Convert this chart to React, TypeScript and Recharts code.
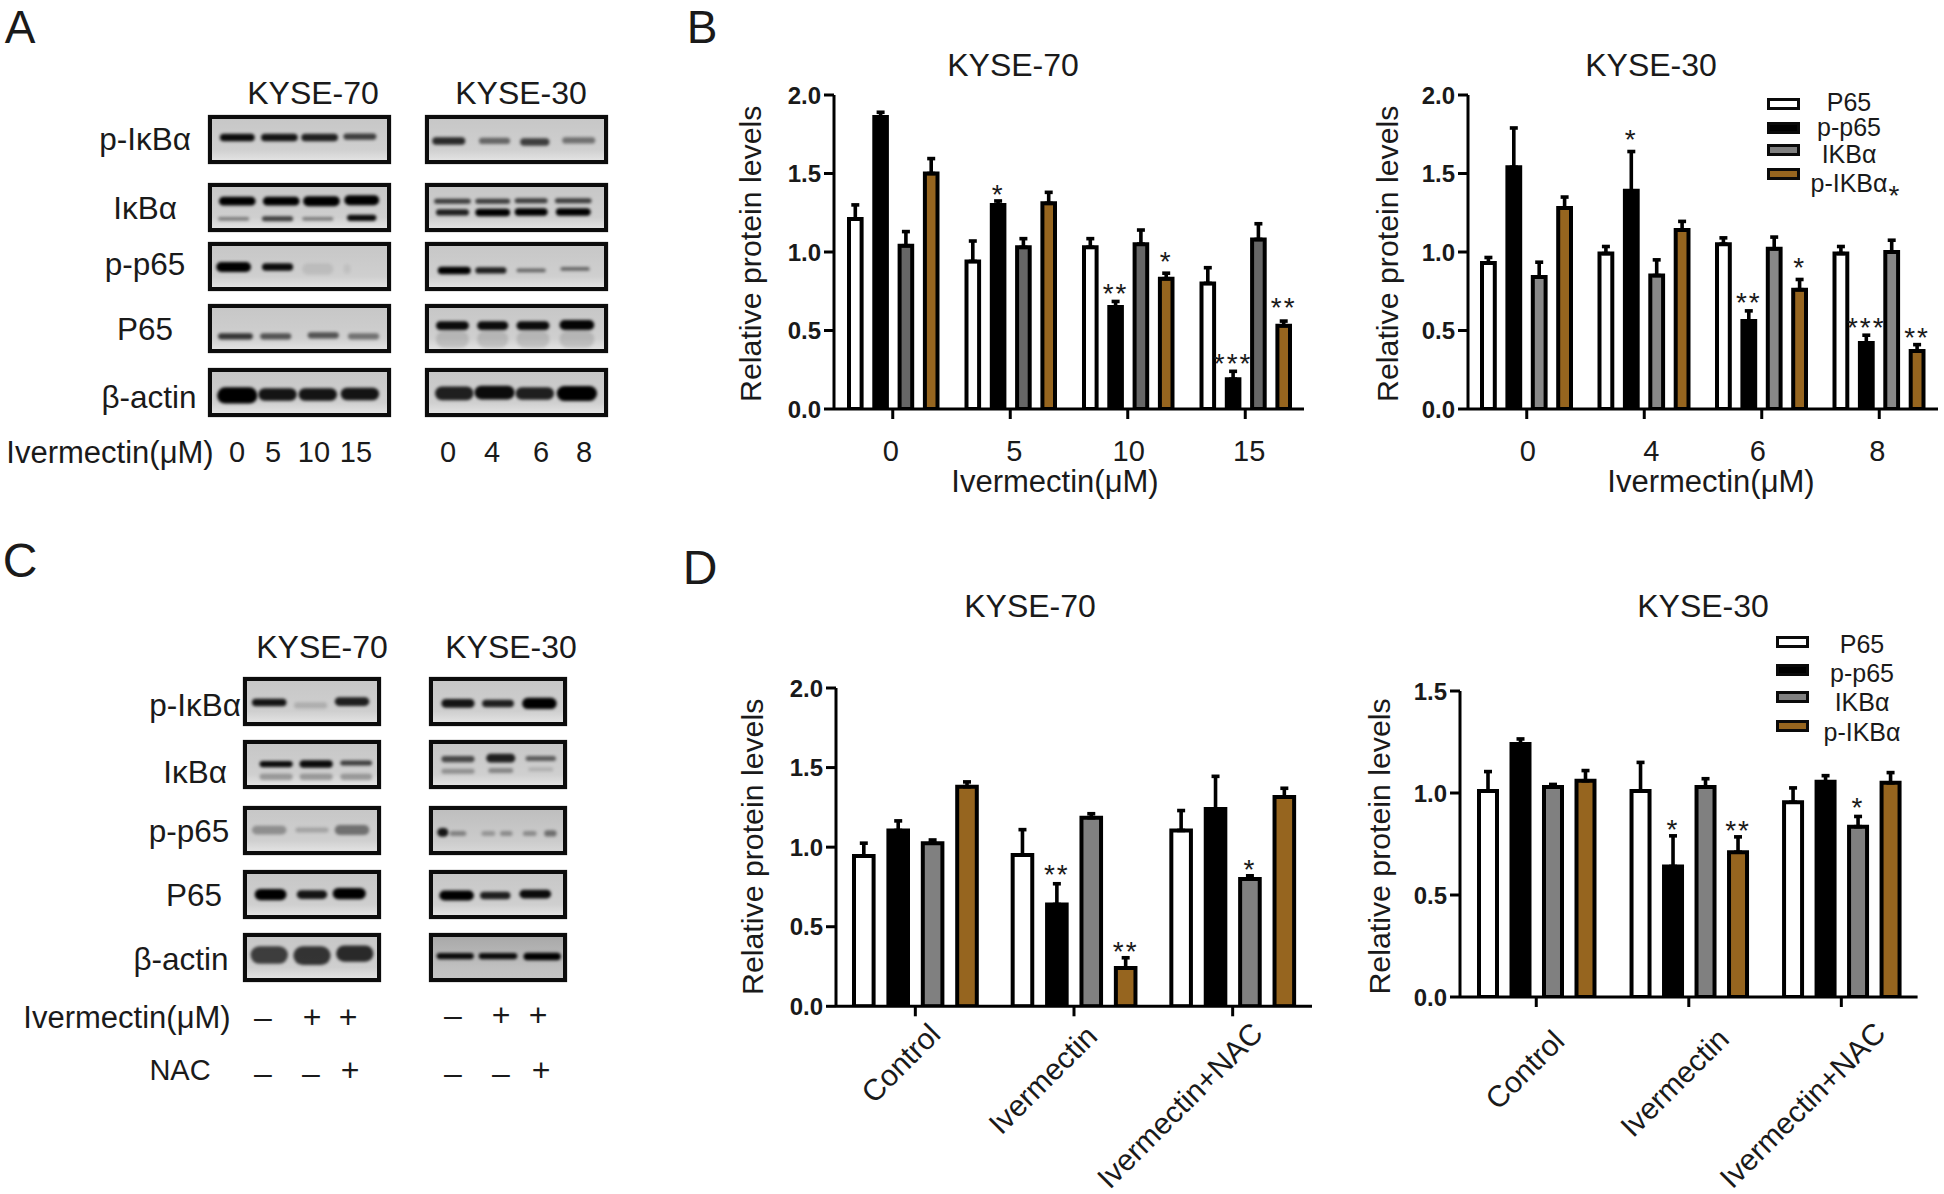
import React from 'react';
import { BarChart, Bar, XAxis, YAxis, ErrorBar, LabelList, ScatterChart, Scatter } from 'recharts';

const FONT = '"Liberation Sans", Arial, sans-serif';
const INK = '#1a1a1a';

// ---------- bar chart data ----------
const seriesKeys = ['P65', 'p-p65', 'IKBα', 'p-IKBα'];
const b70Cats = ['0', '5', '10', '15'];
const b70P65 = [1.21, 0.94, 1.03, 0.8];
const b70P65Err = [0.09, 0.13, 0.055, 0.1];
const b70Pp65 = [1.86, 1.3, 0.65, 0.19];
const b70Pp65Err = [0.03, 0.025, 0.035, 0.05];
const b70Ikb = [1.04, 1.03, 1.05, 1.08];
const b70IkbErr = [0.09, 0.055, 0.09, 0.1];
const b70Pikb = [1.5, 1.31, 0.83, 0.53];
const b70PikbErr = [0.095, 0.07, 0.035, 0.03];
const b70Pp65Stars = ['', '*', '**', '***'];
const b70PikbStars = ['', '', '*', '**'];

const b30Cats = ['0', '4', '6', '8'];
const b30P65 = [0.93, 0.99, 1.05, 0.99];
const b30P65Err = [0.035, 0.045, 0.04, 0.045];
const b30Pp65 = [1.54, 1.39, 0.56, 0.42];
const b30Pp65Err = [0.25, 0.25, 0.065, 0.05];
const b30Ikb = [0.84, 0.85, 1.02, 1.0];
const b30IkbErr = [0.095, 0.1, 0.075, 0.075];
const b30Pikb = [1.28, 1.14, 0.76, 0.37];
const b30PikbErr = [0.07, 0.055, 0.065, 0.04];
const b30Pp65Stars = ['', '*', '**', '***'];
const b30PikbStars = ['', '', '*', '**'];

const dCats = ['Control', 'Ivermectin', 'Ivermectin+NAC'];
const d70P65 = [0.945, 0.95, 1.105];
const d70P65Err = [0.08, 0.16, 0.125];
const d70Pp65 = [1.105, 0.64, 1.24];
const d70Pp65Err = [0.06, 0.13, 0.205];
const d70Ikb = [1.025, 1.185, 0.8];
const d70IkbErr = [0.02, 0.025, 0.02];
const d70Pikb = [1.38, 0.24, 1.315];
const d70PikbErr = [0.03, 0.065, 0.055];
const d70Pp65Stars = ['', '**', ''];
const d70IkbStars = ['', '', '*'];
const d70PikbStars = ['', '**', ''];

const d30P65 = [1.01, 1.01, 0.955];
const d30P65Err = [0.095, 0.14, 0.07];
const d30Pp65 = [1.24, 0.64, 1.055];
const d30Pp65Err = [0.025, 0.15, 0.03];
const d30Ikb = [1.03, 1.03, 0.835];
const d30IkbErr = [0.012, 0.04, 0.05];
const d30Pikb = [1.06, 0.71, 1.05];
const d30PikbErr = [0.05, 0.075, 0.05];
const d30Pp65Stars = ['', '*', ''];
const d30IkbStars = ['', '', '*'];
const d30PikbStars = ['', '**', ''];

const ticks2 = [0, 0.5, 1, 1.5, 2];
const ticks15 = [0, 0.5, 1, 1.5];

// ---------- blot data: [lane %, height %, width %, thickness, density] ----------
const a70pI = [[16, 46, 19, 6, 0.95], [39, 46, 20, 6, 0.9], [61, 46, 20, 6, 0.85], [83, 44, 18, 5, 0.7]];
const a70I = [[16, 37, 20, 7, 1], [40, 37, 20, 7, 1], [62, 37, 20, 8, 1], [84, 35, 19, 8, 1], [14, 73, 17, 3, 0.4], [38, 73, 17, 4, 0.7], [60, 73, 17, 3, 0.4], [84, 71, 16, 5, 0.95]];
const a70pp = [[14, 51, 19, 8, 1], [38, 51, 17, 6, 0.95], [60, 55, 17, 9, 0.08], [76, 55, 4, 8, 0.06]];
const a70P = [[15, 66, 19, 5, 0.75], [37, 66, 17, 5, 0.6], [63, 64, 17, 5, 0.6], [85, 66, 17, 5, 0.45]];
const a70A = [[16, 56, 22, 13, 1], [38, 54, 21, 10, 0.9], [60, 54, 21, 10, 0.9], [83, 53, 21, 10, 0.9]];
const a30pI = [[13, 53, 18, 6, 0.8], [38, 53, 17, 5, 0.5], [60, 55, 16, 6, 0.7], [84, 52, 18, 5, 0.45]];
const a30I = [[15, 37, 20, 4, 0.7], [37, 37, 19, 4, 0.7], [58, 36, 18, 4, 0.7], [81, 36, 20, 4, 0.7], [15, 60, 18, 5, 0.85], [37, 60, 19, 6, 1], [58, 59, 18, 6, 1], [81, 59, 19, 6, 1]];
const a30pp = [[16, 58, 18, 6, 1], [36, 58, 17, 5, 0.85], [58, 58, 16, 3, 0.5], [82, 55, 16, 3, 0.5]];
const a30P = [[15, 44, 18, 7, 0.95], [37, 44, 17, 7, 0.95], [59, 44, 18, 7, 0.95], [83, 43, 19, 8, 0.98], [15, 72, 18, 14, 0.12], [37, 72, 17, 14, 0.12], [59, 72, 18, 14, 0.12], [83, 72, 19, 14, 0.12]];
const a30A = [[16, 52, 21, 11, 0.85], [38, 50, 22, 11, 0.95], [60, 52, 21, 10, 0.85], [83, 52, 22, 12, 1]];
const c70pI = [[19, 52, 25, 6, 0.9], [49, 58, 24, 5, 0.15], [79, 50, 25, 7, 0.85]];
const c70I = [[24, 49, 24, 5, 0.95], [53, 49, 24, 6, 0.95], [82, 47, 23, 4, 0.7], [24, 75, 24, 5, 0.28], [53, 75, 24, 5, 0.28], [82, 75, 23, 5, 0.28]];
const c70pp = [[19, 49, 25, 7, 0.3], [50, 49, 24, 4, 0.2], [79, 49, 25, 8, 0.45]];
const c70P = [[20, 50, 23, 9, 1], [50, 50, 22, 7, 0.9], [77, 48, 24, 9, 1]];
const c70A = [[19, 45, 27, 14, 0.7], [50, 46, 27, 15, 0.75], [81, 42, 27, 13, 0.8]];
const c30pI = [[21, 54, 24, 7, 0.9], [50, 54, 23, 6, 0.85], [80, 54, 25, 9, 1]];
const c30I = [[21, 39, 24, 5, 0.65], [52, 37, 21, 7, 0.85], [81, 38, 22, 4, 0.55], [21, 64, 24, 4, 0.3], [52, 62, 18, 4, 0.35], [81, 60, 18, 3, 0.15]];
const c30pp = [[10, 54, 8, 7, 0.9], [21, 56, 12, 4, 0.35], [43, 56, 10, 4, 0.25], [56, 56, 9, 4, 0.3], [73, 56, 10, 4, 0.3], [88, 56, 9, 5, 0.45]];
const c30P = [[20, 52, 25, 8, 1], [48, 52, 22, 6, 0.85], [77, 49, 23, 7, 0.95]];
const c30A = [[19, 47, 27, 5, 0.95], [50, 47, 28, 5, 0.95], [82, 48, 27, 6, 1]];

const aTop = [115, 183, 242, 304, 368];
const cTop = [677, 740, 806, 870, 933];
const blotLabels = ['p-IκBα', 'IκBα', 'p-p65', 'P65', 'β-actin'];

// ---------- helpers ----------
function T({ x, y, size = 31.5, weight = 400, rot = 0, children }: any) {
  return (
    <div
      style={{
        position: 'absolute', left: x, top: y, fontSize: size, fontWeight: weight, color: INK, lineHeight: 1,
        whiteSpace: 'nowrap', fontFamily: FONT, transform: `translate(-50%,-50%) rotate(${rot}deg)`,
      }}
    >
      {children}
    </div>
  );
}

function Blot({ x, y, w, h, bands, bg }: any) {
  const rows = bands.map((b: number[]) => ({ lane: b[0], pos: b[1], wid: b[2], thick: b[3] * 1.25, dens: b[4] }));
  const shape = (p: any) => {
    const d = p.payload;
    const bw = (d.wid / 100) * w;
    return (
      <rect
        x={p.cx - bw / 2}
        y={p.cy - d.thick / 2}
        width={bw}
        height={d.thick}
        rx={d.thick / 2}
        fill="#000"
        fillOpacity={d.dens}
        style={{ filter: 'blur(1.7px)' }}
      />
    );
  };
  return (
    <div style={{ position: 'absolute', left: x, top: y, width: w, height: h, background: bg || 'linear-gradient(#c6c6c6 0%, #cfcfcf 70%, #e2e2e2 92%)' }}>
      <ScatterChart width={w} height={h} margin={{ top: 0, right: 0, bottom: 0, left: 0 }} style={{ position: 'absolute', left: 0, top: 0 }}>
        <XAxis type="number" dataKey="lane" domain={[0, 100]} hide />
        <YAxis type="number" dataKey="pos" domain={[0, 100]} reversed hide />
        <Scatter data={rows} shape={shape} isAnimationActive={false} />
      </ScatterChart>
      <div style={{ position: 'absolute', inset: 0, border: '4.5px solid #0c0c0c', boxSizing: 'border-box', boxShadow: '0 0 1px #555' }} />
    </div>
  );
}

function LegendBlock({ x, tops, textX, textYs, grays }: any) {
  const fills = ['#fff', '#000', grays, '#96651f'];
  return (
    <>
      {seriesKeys.map((k, i) => (
        <React.Fragment key={k}>
          <div style={{ position: 'absolute', left: x, top: tops[i], width: 33, height: 12, background: fills[i], border: '3.5px solid #0a0a0a', boxSizing: 'border-box' }} />
          <T x={textX} y={textYs[i]} size={25}>{k}</T>
        </React.Fragment>
      ))}
    </>
  );
}

function BarPanel(props: any) {
  const { cats, p65, p65e, pp, ppe, ikb, ikbe, pik, pike, ppStars, ikbStars, pikStars, left, top, plotW, plotH, ymax, yTicks, barW, gap, gray, rotated, xTitle, xTitleX, yTitleX, yTitleY, tickFont, starPad, tickShift } = props;
  const boxLeft = 130;
  const boxTop = 20;
  const xH = rotated ? 198 : 110;
  const chartLeft = left - boxLeft;
  const chartTop = top - boxTop;
  const rows = cats.map((c: string, i: number) => ({
    cat: c, p65: p65[i], p65e: p65e[i], pp: pp[i], ppe: ppe[i], ikb: ikb[i], ikbe: ikbe[i], pik: pik[i], pike: pike[i],
    ppS: ppStars ? ppStars[i] : '', ikbS: ikbStars ? ikbStars[i] : '', pikS: pikStars ? pikStars[i] : '',
  }));
  const perUnit = plotH / ymax;
  const star = (errKey: string) => (p: any) => {
    if (!p.value) return null;
    const row = rows[p.index];
    const pad = starPad && starPad[`${errKey}${p.index}`] != null ? starPad[`${errKey}${p.index}`] : 11.5;
    const yy = p.y - row[errKey] * perUnit - pad + 15;
    return (
      <text x={p.x + p.width / 2} y={yy} textAnchor="middle" fontSize={28} fill={INK} letterSpacing={2}>
        {p.value}
      </text>
    );
  };
  const tick = (p: any) => {
    const s = tickShift ? tickShift[p.index] : rotated ? [22, 30] : [0, 0];
    if (rotated) {
      const ex = p.x + s[0];
      const ey = p.y + s[1];
      return (
        <text x={ex} y={ey} textAnchor="end" fontSize={30} fill={INK} transform={`rotate(-45 ${ex} ${ey})`}>
          {p.payload.value}
        </text>
      );
    }
    return (
      <text x={p.x + s[0]} y={p.y + 40} textAnchor="middle" fontSize={29} fill={INK}>
        {p.payload.value}
      </text>
    );
  };
  const xLabel = () =>
    xTitle ? (
      <text x={xTitleX - chartLeft} y={boxTop + plotH + 72} textAnchor="middle" dominantBaseline="central" fontSize={31} fill={INK}>
        {xTitle}
      </text>
    ) : null;
  const yLabel = () => {
    const cx = yTitleX - chartLeft;
    const cy = yTitleY - chartTop;
    return (
      <text x={cx} y={cy} textAnchor="middle" dominantBaseline="central" fontSize={30.3} fill={INK} transform={`rotate(-90 ${cx} ${cy})`}>
        Relative protein levels
      </text>
    );
  };
  const barCommon = { barSize: barW, stroke: '#000', strokeWidth: 4, isAnimationActive: false };
  const errCommon = { direction: 'y' as const, width: 4, stroke: '#000', strokeWidth: 3.6, isAnimationActive: false };
  return (
    <div style={{ position: 'absolute', left: chartLeft, top: chartTop }}>
      <BarChart
        width={boxLeft + plotW + 14}
        height={boxTop + plotH + xH}
        data={rows}
        barGap={gap}
        margin={{ top: boxTop, right: 14, bottom: 0, left: 0 }}
      >
        <XAxis
          dataKey="cat"
          height={xH}
          interval={0}
          tick={tick}
          tickSize={10}
          axisLine={{ stroke: '#000', strokeWidth: 3 }}
          tickLine={{ stroke: '#000', strokeWidth: 3 }}
          label={xLabel}
        />
        <YAxis
          width={boxLeft}
          domain={[0, ymax]}
          ticks={yTicks}
          allowDataOverflow
          tickFormatter={(v: number) => v.toFixed(1)}
          tick={{ fontSize: tickFont, fontWeight: 700, fill: INK }}
          tickSize={10}
          tickMargin={3}
          axisLine={{ stroke: '#000', strokeWidth: 3 }}
          tickLine={{ stroke: '#000', strokeWidth: 3 }}
          label={yLabel}
        />
        <Bar dataKey="p65" name="P65" fill="#fff" {...barCommon}>
          <ErrorBar dataKey={(d: any) => [0, d.p65e]} {...errCommon} />
        </Bar>
        <Bar dataKey="pp" name="p-p65" fill="#000" {...barCommon}>
          <ErrorBar dataKey={(d: any) => [0, d.ppe]} {...errCommon} />
          <LabelList dataKey="ppS" content={star('ppe')} />
        </Bar>
        <Bar dataKey="ikb" name="IKBα" fill={gray} {...barCommon}>
          <ErrorBar dataKey={(d: any) => [0, d.ikbe]} {...errCommon} />
          <LabelList dataKey="ikbS" content={star('ikbe')} />
        </Bar>
        <Bar dataKey="pik" name="p-IKBα" fill="#96651f" {...barCommon}>
          <ErrorBar dataKey={(d: any) => [0, d.pike]} {...errCommon} />
          <LabelList dataKey="pikS" content={star('pike')} />
        </Bar>
      </BarChart>
    </div>
  );
}

const cols = (xs: any[], ys: number[], h: number, bandSets: any[], w: number, bgs?: any[]) =>
  ys.map((y, i) => <Blot key={`${xs[0]}-${y}`} x={xs[0]} y={y} w={w} h={h} bands={bandSets[i]} bg={bgs ? bgs[i] : undefined} />);

export default function App() {
  return (
    <div style={{ position: 'absolute', left: 0, top: 0, width: 1944, height: 1194, background: '#fff', overflow: 'hidden', fontFamily: FONT }}>
      <T x={20} y={27} size={46}>A</T>
      <T x={702} y={27} size={46}>B</T>
      <T x={20} y={561} size={48}>C</T>
      <T x={700} y={568} size={48}>D</T>

      {/* Panel A */}
      <T x={313} y={93} size={32}>KYSE-70</T>
      <T x={521} y={93} size={32}>KYSE-30</T>
      {cols([208], aTop, 49, [a70pI, a70I, a70pp, a70P, a70A], 183)}
      {cols([425], aTop, 49, [a30pI, a30I, a30pp, a30P, a30A], 183)}
      {[140, 209, 265, 330, 398].map((y, i) => (
        <T key={y} x={[145, 145, 145, 145, 149][i]} y={y}>{blotLabels[i]}</T>
      ))}
      <T x={110} y={452} size={31}>Ivermectin(μM)</T>
      {['0', '5', '10', '15', '0', '4', '6', '8'].map((s, i) => (
        <T key={i} x={[237, 273, 314, 356, 448, 492, 541, 584][i]} y={452} size={29}>{s}</T>
      ))}

      {/* Panel C */}
      <T x={322} y={647} size={32}>KYSE-70</T>
      <T x={511} y={647} size={32}>KYSE-30</T>
      {cols([243], cTop, 49, [c70pI, c70I, c70pp, c70P, c70A], 138)}
      {cols([429], cTop, 49, [c30pI, c30I, c30pp, c30P, c30A], 138, [undefined, undefined, 'linear-gradient(#bdbdbd,#cbcbcb 70%,#dadada)', undefined, 'linear-gradient(#a6a6a6,#c0c0c0 70%,#c6c6c6)'])}
      {[706, 773, 832, 896, 960].map((y, i) => (
        <T key={y} x={[195, 195, 189, 194, 181][i]} y={y}>{blotLabels[i]}</T>
      ))}
      <T x={127} y={1017} size={31}>Ivermectin(μM)</T>
      <T x={180} y={1070} size={29}>NAC</T>
      {['–', '+', '+', '–', '+', '+'].map((s, i) => (
        <T key={i} x={[263, 312, 348, 453, 501, 538][i]} y={i < 3 ? 1017 : 1015} size={32}>{s}</T>
      ))}
      {['–', '–', '+', '–', '–', '+'].map((s, i) => (
        <T key={i} x={[263, 311, 350, 453, 501, 541][i]} y={s === '+' ? 1070 : 1073} size={32}>{s}</T>
      ))}

      {/* Panel B */}
      <T x={1013} y={65} size={32}>KYSE-70</T>
      <BarPanel
        cats={b70Cats} p65={b70P65} p65e={b70P65Err} pp={b70Pp65} ppe={b70Pp65Err} ikb={b70Ikb} ikbe={b70IkbErr} pik={b70Pikb} pike={b70PikbErr}
        ppStars={b70Pp65Stars} pikStars={b70PikbStars} starPad={{ ppe2: 13, ppe3: 13, pike2: 16.7, pike3: 19 }}
        tickShift={[[-2, 0], [4, 0], [1, 0], [4, 0]]}
        left={834} top={95.3} plotW={470} plotH={314} ymax={2} yTicks={ticks2} barW={12.6} gap={12.7} gray="#666666"
        xTitle="Ivermectin(μM)" xTitleX={1055} yTitleX={751} yTitleY={254} tickFont={24}
      />
      <T x={1651} y={65} size={32}>KYSE-30</T>
      <BarPanel
        cats={b30Cats} p65={b30P65} p65e={b30P65Err} pp={b30Pp65} ppe={b30Pp65Err} ikb={b30Ikb} ikbe={b30IkbErr} pik={b30Pikb} pike={b30PikbErr}
        ppStars={b30Pp65Stars} pikStars={b30PikbStars} starPad={{ ppe1: 18, ppe2: 14, ppe3: 13, pike2: 17, pike3: 13 }}
        tickShift={[[1, 0], [7, 0], [-4, 0], [-2, 0]]}
        left={1468} top={95.3} plotW={470} plotH={314} ymax={2} yTicks={ticks2} barW={12.8} gap={12.6} gray="#888888"
        xTitle="Ivermectin(μM)" xTitleX={1711} yTitleX={1388} yTitleY={254} tickFont={24}
      />
      <LegendBlock x={1767} tops={[98, 122, 144, 168]} textX={1849} textYs={[102, 127, 154, 183]} grays="#808080" />
      <T x={1894} y={196} size={28}>*</T>

      {/* Panel D */}
      <T x={1030} y={606} size={32}>KYSE-70</T>
      <BarPanel
        cats={dCats} p65={d70P65} p65e={d70P65Err} pp={d70Pp65} ppe={d70Pp65Err} ikb={d70Ikb} ikbe={d70IkbErr} pik={d70Pikb} pike={d70PikbErr}
        ppStars={d70Pp65Stars} ikbStars={d70IkbStars} pikStars={d70PikbStars} starPad={{ ppe1: 15, pike1: 12 }}
        tickShift={[[27, 18], [25, 20], [32, 17]]}
        left={836} top={688.2} plotW={476} plotH={318.3} ymax={2} yTicks={ticks2} barW={19.6} gap={14.8} gray="#808080" rotated
        yTitleX={753} yTitleY={847} tickFont={24}
      />
      <T x={1703} y={606} size={32}>KYSE-30</T>
      <BarPanel
        cats={dCats} p65={d30P65} p65e={d30P65Err} pp={d30Pp65} ppe={d30Pp65Err} ikb={d30Ikb} ikbe={d30IkbErr} pik={d30Pikb} pike={d30PikbErr}
        ppStars={d30Pp65Stars} ikbStars={d30IkbStars} pikStars={d30PikbStars} starPad={{ ikbe2: 14 }}
        tickShift={[[30, 34], [42, 32], [46, 26]]}
        left={1460} top={690.6} plotW={457.6} plotH={306} ymax={1.5} yTicks={ticks15} barW={18} gap={14.5} gray="#808080" rotated
        yTitleX={1380} yTitleY={846} tickFont={24}
      />
      <LegendBlock x={1776} tops={[636, 664, 691, 720]} textX={1862} textYs={[644, 673, 702, 732]} grays="#808080" />
    </div>
  );
}
